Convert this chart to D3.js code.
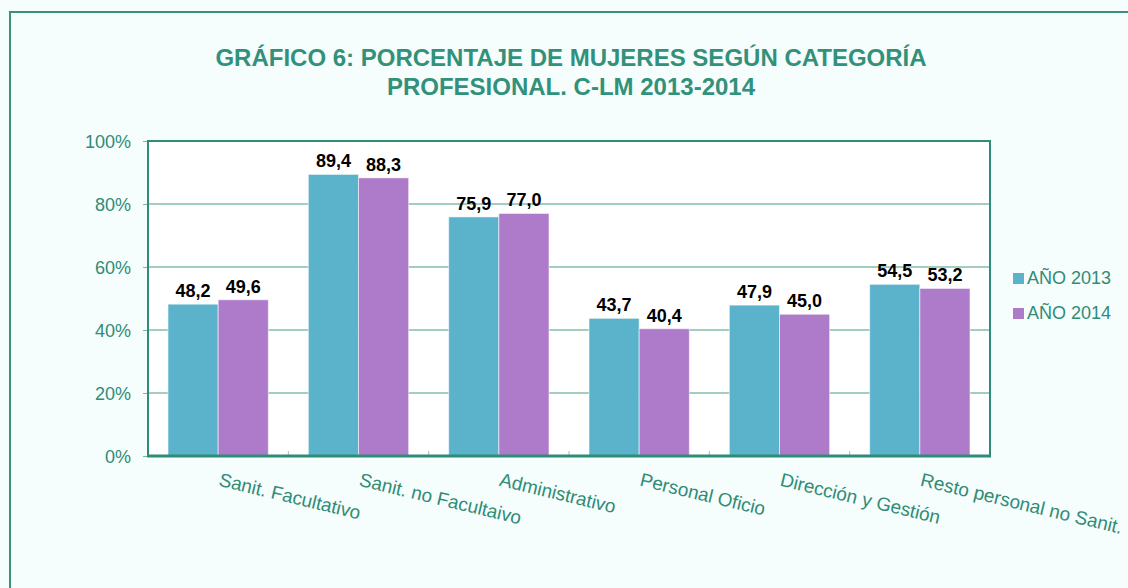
<!DOCTYPE html>
<html><head><meta charset="utf-8">
<script src="https://cdn.jsdelivr.net/npm/d3@7/dist/d3.min.js"></script>
<style>
html,body{margin:0;padding:0;background:#f6fdfd;}
svg{display:block;font-family:Arial,"Liberation Sans",sans-serif;}
</style></head>
<body><svg id="c" width="1128" height="588"></svg>
<script>
const categories = ["Sanit. Facultativo","Sanit. no Facultaivo","Administrativo","Personal Oficio","Dirección y Gestión","Resto personal no Sanit."];
const seriesNames = ["AÑO 2013","AÑO 2014"];
const values2013 = [48.2, 89.4, 75.9, 43.7, 47.9, 54.5];
const values2014 = [49.6, 88.3, 77.0, 40.4, 45.0, 53.2];
const yTicks = [0, 20, 40, 60, 80, 100];
const titleLines = ["GRÁFICO 6: PORCENTAJE DE MUJERES SEGÚN CATEGORÍA","PROFESIONAL. C-LM 2013-2014"];

const colors = ["#5ab3cb","#ae7bca"];
const teal = "#2f8c76";
const svg = d3.select("#c");

svg.append("rect").attr("x",0).attr("y",0).attr("width",1128).attr("height",588).attr("fill","#f6fdfd");
svg.append("rect").attr("x",10).attr("y",12).attr("width",1140).attr("height",600)
  .attr("fill","#f6fdfd").attr("stroke","#3a907b").attr("stroke-width",2);

svg.selectAll("text.title").data(titleLines).join("text")
  .attr("class","title").attr("x",571).attr("y",(d,i)=>66+i*29)
  .attr("text-anchor","middle").attr("font-size",24).attr("font-weight","bold")
  .attr("fill","#32917a").text(d=>d);

const L=148,R=990,T=141,B=456;
const x0 = d3.scaleBand().domain(categories).range([L,R]).paddingInner(0.285).paddingOuter(0.1425);
const x1 = d3.scaleBand().domain(seriesNames).range([0,x0.bandwidth()]);
const y = d3.scaleLinear().domain([0,100]).range([B,T]);

svg.append("rect").attr("x",L).attr("y",T).attr("width",R-L).attr("height",B-T).attr("fill","#ffffff");

// gridlines
svg.append("g").selectAll("line").data(yTicks.filter(d=>d>0&&d<100)).join("line")
  .attr("x1",L).attr("x2",R).attr("y1",d=>y(d)).attr("y2",d=>y(d))
  .attr("stroke","#86bcae").attr("stroke-width",1.3);

// y axis
const yAxis = d3.axisLeft(y).tickValues(yTicks).tickSize(5).tickPadding(12).tickFormat(d=>d+"%");
const gy = svg.append("g").attr("transform",`translate(${L},0)`).call(yAxis);
gy.select(".domain").remove();
gy.selectAll(".tick line").attr("stroke","#7fb0a2");
gy.selectAll(".tick text").attr("fill",teal).attr("font-size",18).attr("font-family","Arial,'Liberation Sans',sans-serif").attr("dy","0.36em");

// x boundary ticks (inside)
const step = (R-L)/categories.length;
svg.append("g").selectAll("line").data(d3.range(1,categories.length)).join("line")
  .attr("x1",i=>L+i*step).attr("x2",i=>L+i*step).attr("y1",B-5).attr("y2",B)
  .attr("stroke","#9cbfb5").attr("stroke-width",1);

// bars
const data = categories.map((c,i)=>({cat:c, vals:[values2013[i],values2014[i]]}));
const groups = svg.append("g").selectAll("g").data(data).join("g")
  .attr("transform",d=>`translate(${x0(d.cat)},0)`);
groups.selectAll("rect").data(d=>d.vals.map((v,j)=>({s:seriesNames[j],v,j}))).join("rect")
  .attr("x",d=>x1(d.s)).attr("width",x1.bandwidth()).attr("y",d=>y(d.v)).attr("height",d=>B-y(d.v))
  .attr("fill",d=>colors[d.j]).attr("stroke","rgba(255,255,255,0.55)").attr("stroke-width",1);
groups.selectAll("text").data(d=>d.vals.map((v,j)=>({s:seriesNames[j],v,j}))).join("text")
  .attr("x",d=>x1(d.s)+x1.bandwidth()/2).attr("y",d=>y(d.v)-7)
  .attr("text-anchor","middle").attr("font-size",18).attr("font-weight","bold").attr("fill","#000")
  .text(d=>d.v.toFixed(1).replace(".",","));

// plot frame
svg.append("rect").attr("x",L).attr("y",T).attr("width",R-L).attr("height",B-T)
  .attr("fill","none").attr("stroke","#2f8c76").attr("stroke-width",2);
svg.append("line").attr("x1",L-1).attr("x2",R+1).attr("y1",B).attr("y2",B).attr("stroke","#2f8c76").attr("stroke-width",3);

// x labels
svg.append("g").selectAll("text").data(categories).join("text")
  .attr("transform",d=>`translate(${x0(d)+x0.bandwidth()/2+3},472) rotate(13.5)`)
  .attr("dy",14).attr("font-size",18.9).attr("fill","#2f8c76").text(d=>d);

// legend
const lg = svg.append("g").selectAll("g").data(seriesNames).join("g")
  .attr("transform",(d,i)=>`translate(1013,${273+i*35})`);
lg.append("rect").attr("width",11).attr("height",11).attr("fill",(d,i)=>colors[i]);
lg.append("text").attr("x",14).attr("y",11).attr("font-size",18).attr("fill",teal).text(d=>d);
</script></body></html>
